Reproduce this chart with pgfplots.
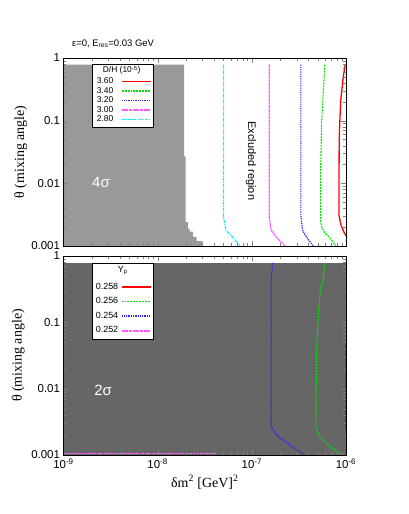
\documentclass[border=0pt]{standalone}
\usepackage{fontspec}
\setmainfont{Liberation Sans}
\newfontfamily\serif{Liberation Serif}
\usepackage{pgfplots}
\pgfplotsset{compat=1.18}
\pgfplotsset{every axis plot/.append style={
  legend image code/.code={\draw[##1, line width=1.6pt] (0bp,0bp) -- (29bp,0bp);}}}

\definecolor{gfour}{gray}{0.6}
\definecolor{gtwo}{gray}{0.4}
\definecolor{cred}{rgb}{1,0,0}
\definecolor{cgreen}{rgb}{0,0.9,0}
\definecolor{cblue}{rgb}{0.15,0.15,1}
\definecolor{cmag}{rgb}{1,0.35,1}
\definecolor{ccyan}{rgb}{0,0.95,0.95}

\pgfplotsset{
  sred/.style={color=cred, solid, line width=1.3pt},
  sgreen/.style={color=cgreen, line width=1.1pt, dash pattern=on 2pt off 1pt},
  sblue/.style={color=cblue, line width=1.2pt, dash pattern=on 1.3pt off 1pt},
  smag/.style={color=cmag, line width=1.2pt, dash pattern=on 3pt off 0.7pt},
  scyan/.style={color=ccyan, line width=1.1pt, dash pattern=on 3pt off 1pt on 1pt off 1pt},
}

\begin{document}
\begin{tikzpicture}
\path[use as bounding box] (0,0) rectangle (409bp,514bp);

% upper panel: D/H
\begin{axis}[
  scale only axis, width=282.5bp, height=188bp,
  anchor=south west, at={(63.5bp,268bp)},
  xmode=log, ymode=log, xmin=1e-9, xmax=1e-6, ymin=1e-3, ymax=1,
  axis on top,
  xtick={1e-9,1e-8,1e-7,1e-6}, xticklabels={},
  minor xtick={2e-9,3e-9,4e-9,5e-9,6e-9,7e-9,8e-9,9e-9,
               2e-8,3e-8,4e-8,5e-8,6e-8,7e-8,8e-8,9e-8,
               2e-7,3e-7,4e-7,5e-7,6e-7,7e-7,8e-7,9e-7},
  ytick={1e-3,1e-2,1e-1,1}, yticklabels={0.001,0.01,0.1,1},
  minor ytick={0.002,0.003,0.004,0.005,0.006,0.007,0.008,0.009,
               0.02,0.03,0.04,0.05,0.06,0.07,0.08,0.09,
               0.2,0.3,0.4,0.5,0.6,0.7,0.8,0.9},
  ticklabel style={font=\fontsize{11.5}{12}\selectfont},
  major tick length=5bp, minor tick length=3bp,
  ylabel={\serif θ (mixing angle)},
  ylabel style={font=\fontsize{14}{16}\selectfont, anchor=center, at={(axis description cs:-0.151,0.5)}},
  title={ε=0, E\textsubscript{res}=0.03 GeV},
  title style={at={(axis description cs:0.03,1)}, anchor=base west, yshift=6bp,
    inner sep=0pt, font=\fontsize{9.5}{10}\selectfont},
  legend plot pos=right, legend cell align=left,
  legend style={at={(rel axis cs:0.102,0.968)}, anchor=north west,
    fill=white, font=\fontsize{8.5}{9}\selectfont,
    inner xsep=2.5pt, inner ysep=3.5pt, row sep=1pt,
    nodes={inner xsep=1.5pt, inner ysep=0pt, text height=6.5pt, text depth=2pt},
    /tikz/every odd column/.append style={column sep=6pt}},
  every axis legend/.append style={line width=1pt},
]
\addplot[fill=gfour, draw=none, forget plot] coordinates {
  (1e-9,1e-3) (1e-9,0.785) (1.91e-8,0.785) (1.91e-8,0.027) (1.98e-8,0.027)
  (1.98e-8,0.0024) (2.09e-8,0.0024) (2.09e-8,0.0019) (2.19e-8,0.0019)
  (2.19e-8,0.0017) (2.36e-8,0.0017) (2.36e-8,0.0014) (2.6e-8,0.0014)
  (2.6e-8,0.0012) (3.0e-8,0.0012) (3.0e-8,1e-3)} -- cycle;

\addlegendimage{empty legend}
\addlegendentry{\makebox[0pt][l]{\hspace*{6bp}\raisebox{1.5pt}{D/H (10\textsuperscript{-5})}}}

\addplot[sred] coordinates {
  (9.8e-7,0.785) (9.27e-7,0.446) (8.77e-7,0.201) (8.47e-7,0.053)
  (8.41e-7,0.00313) (8.83e-7,0.00217) (9.5e-7,0.00168) (1e-6,0.00145)};
\addlegendentry{3.60}
\addplot[sgreen] coordinates {
  (5.97e-7,0.785) (5.51e-7,0.095) (5.37e-7,0.0136) (5.37e-7,0.00245)
  (5.55e-7,0.00195) (5.97e-7,0.00162) (6.74e-7,0.00135) (7.81e-7,0.001)};
\addlegendentry{3.40}
\addplot[sblue] coordinates {
  (3.32e-7,0.785) (3.32e-7,0.003) (3.45e-7,0.0018) (3.85e-7,0.00135) (4.49e-7,0.001)};
\addlegendentry{3.20}
\addplot[smag] coordinates {
  (1.53e-7,0.785) (1.53e-7,0.0029) (1.6e-7,0.0018) (1.85e-7,0.00135) (2.24e-7,0.001)};
\addlegendentry{3.00}
\addplot[scyan] coordinates {
  (5.0e-8,0.785) (5.0e-8,0.0029) (5.3e-8,0.0018) (6.35e-8,0.00135) (7.5e-8,0.001)};
\addlegendentry{2.80}

\node[text=white, font=\fontsize{15}{15}\selectfont] at (axis cs:2.5e-9,0.0102) {4σ};
\node[rotate=-90, font=\fontsize{11}{11}\selectfont] at (axis cs:9.8e-8,0.0228) {Excluded region};
\end{axis}

% lower panel: Yp
\begin{axis}[
  scale only axis, width=282.5bp, height=199bp,
  anchor=south west, at={(63.5bp,59bp)},
  xmode=log, ymode=log, xmin=1e-9, xmax=1e-6, ymin=1e-3, ymax=1,
  axis on top,
  xtick={1e-9,1e-8,1e-7,1e-6},
  xticklabels={10\textsuperscript{-9},10\textsuperscript{-8},10\textsuperscript{-7},10\textsuperscript{-6}},
  minor xtick={2e-9,3e-9,4e-9,5e-9,6e-9,7e-9,8e-9,9e-9,
               2e-8,3e-8,4e-8,5e-8,6e-8,7e-8,8e-8,9e-8,
               2e-7,3e-7,4e-7,5e-7,6e-7,7e-7,8e-7,9e-7},
  ytick={1e-3,1e-2,1e-1,1}, yticklabels={0.001,0.01,0.1,1},
  minor ytick={0.002,0.003,0.004,0.005,0.006,0.007,0.008,0.009,
               0.02,0.03,0.04,0.05,0.06,0.07,0.08,0.09,
               0.2,0.3,0.4,0.5,0.6,0.7,0.8,0.9},
  ticklabel style={font=\fontsize{11.5}{12}\selectfont},
  major tick length=5bp, minor tick length=3bp,
  xlabel={\serif δm\textsuperscript{2} [GeV]\textsuperscript{2}},
  xlabel style={font=\fontsize{14}{16}\selectfont},
  ylabel={\serif θ (mixing angle)},
  ylabel style={font=\fontsize{14}{16}\selectfont, anchor=center, at={(axis description cs:-0.16,0.5)}},
  legend plot pos=right, legend cell align=left,
  legend style={at={(rel axis cs:0.102,0.965)}, anchor=north west,
    fill=white, font=\fontsize{9}{9}\selectfont,
    inner xsep=2pt, inner ysep=4pt, row sep=5.3pt,
    nodes={inner xsep=1pt, inner ysep=0pt, text height=7pt, text depth=2.4pt},
    /tikz/every odd column/.append style={column sep=1.5pt}},
  every axis legend/.append style={line width=1pt},
]
\addplot[fill=gtwo, draw=none, forget plot] coordinates {
  (1e-9,1e-3) (1e-6,1e-3) (1e-6,0.785) (1e-9,0.785)} -- cycle;

\addlegendimage{empty legend}
\addlegendentry{\makebox[0pt][l]{\hspace*{22bp}\raisebox{2pt}{Y\textsubscript{p}}}}

\addplot[sred] coordinates {(0.99e-6,0.0025) (0.99e-6,0.05)};
\addlegendentry{0.258}
\addplot[sgreen] coordinates {
  (5.97e-7,0.785) (5.65e-7,0.39) (5.37e-7,0.33) (5.15e-7,0.17) (4.87e-7,0.038)
  (4.79e-7,0.0034) (4.79e-7,0.00266) (5.28e-7,0.00188) (6.22e-7,0.0015)
  (7.62e-7,0.00119) (8.98e-7,0.001)};
\addlegendentry{0.256}
\addplot[sblue] coordinates {
  (1.67e-7,0.785) (1.61e-7,0.487) (1.61e-7,0.00266) (1.91e-7,0.00188)
  (2.43e-7,0.0015) (2.99e-7,0.00119) (3.66e-7,0.001)};
\addlegendentry{0.254}
\addplot[smag] coordinates {(1e-9,0.00104) (4.2e-8,0.00104)};
\addlegendentry{0.252}

\node[text=white, font=\fontsize{15}{15}\selectfont] at (axis cs:2.63e-9,0.0095) {2σ};
\end{axis}
\end{tikzpicture}
\end{document}
